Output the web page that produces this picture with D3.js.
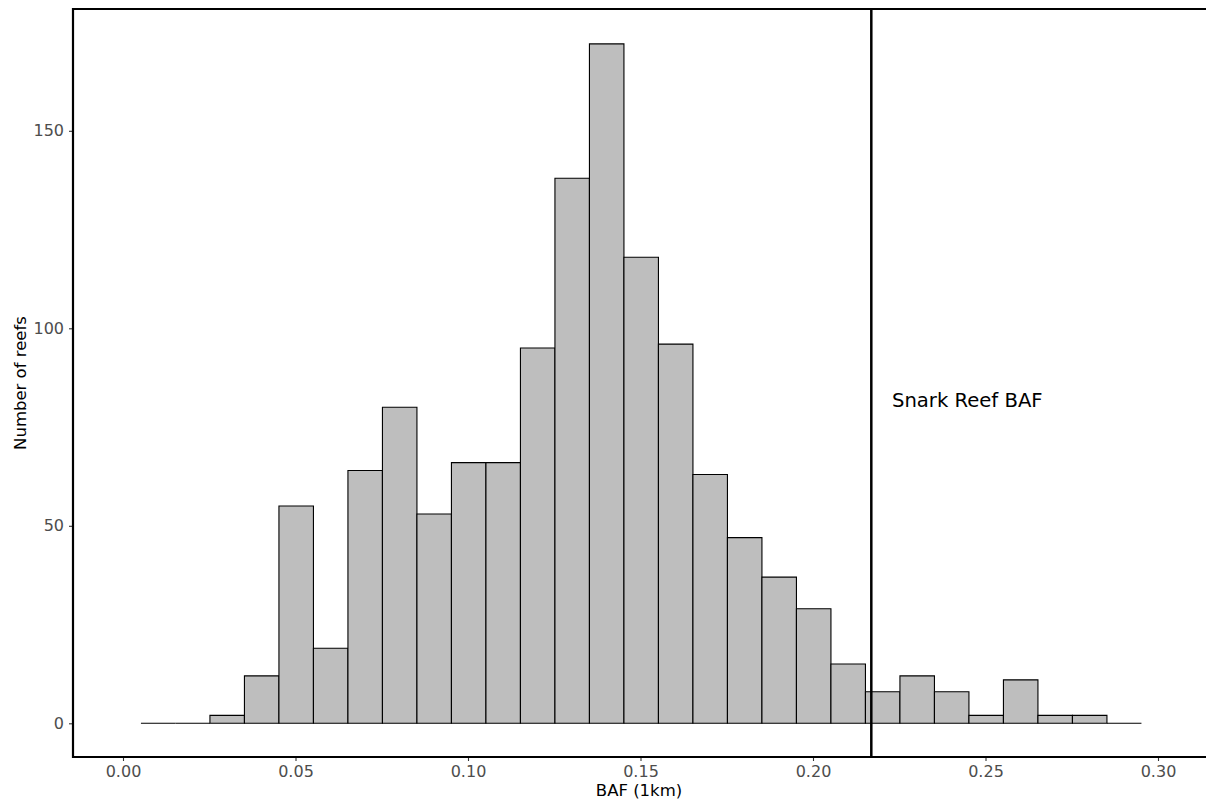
<!DOCTYPE html>
<html>
<head>
<meta charset="utf-8">
<script src="https://cdn.jsdelivr.net/npm/d3@7"></script>
<style>
  body { margin: 0; background: #fff; }
  svg { display: block; font-family: "DejaVu Sans", sans-serif; }
</style>
</head>
<body>
<div id="chart"></div>
<script>
// histogram bins: left edge of first bin and bin width, counts per bin
var binStart = 0.0052;
var binWidth = 0.01;
var counts = [0, 0, 2, 12, 55, 19, 64, 80, 53, 66, 66, 95, 138, 172, 118, 96, 63, 47, 37, 29, 15, 8, 12, 8, 2, 11, 2, 2, 0];
var xTicks = [0, 0.05, 0.10, 0.15, 0.20, 0.25, 0.30];
var yTicks = [0, 50, 100, 150];
var snarkBAF = 0.2169;
var snarkLabel = "Snark Reef BAF";
var xTitle = "BAF (1km)";
var yTitle = "Number of reefs";

var width = 1206, height = 802;
var svg = d3.select("#chart").append("svg")
  .attr("width", width).attr("height", height);

var x = d3.scaleLinear().domain([0, 0.30]).range([123, 1158]);
var y = d3.scaleLinear().domain([0, 150]).range([723.3, 130.8]);

var bins = counts.map(function(c, i) {
  return { x0: binStart + i * binWidth, x1: binStart + (i + 1) * binWidth, n: c };
});

// bars drawn as closed paths so empty bins still show their bottom edge
svg.append("g").selectAll("path")
  .data(bins)
  .enter()
  .append("path")
  .attr("d", function(d) {
    var l = x(d.x0), r = x(d.x1), b = y(0), t = y(d.n);
    return "M" + l + "," + b + "V" + t + "H" + r + "V" + b + "Z";
  })
  .attr("fill", "#bebebe")
  .attr("stroke", "#000")
  .attr("stroke-width", 1.1);

// snark reef vertical line
svg.append("line")
  .attr("x1", x(snarkBAF)).attr("x2", x(snarkBAF))
  .attr("y1", 9).attr("y2", 757)
  .attr("stroke", "#000").attr("stroke-width", 2.5);

svg.append("text")
  .attr("x", 892).attr("y", 407)
  .attr("font-size", 19.6)
  .attr("fill", "#000")
  .text(snarkLabel);

// axes
var xAxis = d3.axisBottom(x).tickValues(xTicks).tickSize(4).tickPadding(5)
  .tickFormat(d3.format(".2f"));
var gx = svg.append("g").attr("transform", "translate(0,757)").call(xAxis);
var yAxis = d3.axisLeft(y).tickValues(yTicks).tickSize(4).tickPadding(5)
  .tickFormat(d3.format("d"));
var gy = svg.append("g").attr("transform", "translate(73,0)").call(yAxis);

[gx, gy].forEach(function(g) {
  g.select(".domain").remove();
  g.selectAll(".tick line").attr("stroke", "#333").attr("stroke-width", 1.1);
  g.selectAll(".tick text").attr("fill", "#4d4d4d")
    .attr("font-size", 16).attr("font-family", "DejaVu Sans, sans-serif");
});

// panel lines: top, left, bottom
svg.append("line").attr("x1", 72).attr("x2", width).attr("y1", 9).attr("y2", 9)
  .attr("stroke", "#000").attr("stroke-width", 2.2);
svg.append("line").attr("x1", 73).attr("x2", 73).attr("y1", 8).attr("y2", 758)
  .attr("stroke", "#000").attr("stroke-width", 2.2);
svg.append("line").attr("x1", 72).attr("x2", width).attr("y1", 757).attr("y2", 757)
  .attr("stroke", "#000").attr("stroke-width", 2.2);

// titles
svg.append("text")
  .attr("x", 639).attr("y", 796)
  .attr("text-anchor", "middle")
  .attr("font-size", 16.5)
  .text(xTitle);

svg.append("text")
  .attr("transform", "translate(26,383) rotate(-90)")
  .attr("text-anchor", "middle")
  .attr("font-size", 16.5)
  .text(yTitle);
</script>
</body>
</html>
